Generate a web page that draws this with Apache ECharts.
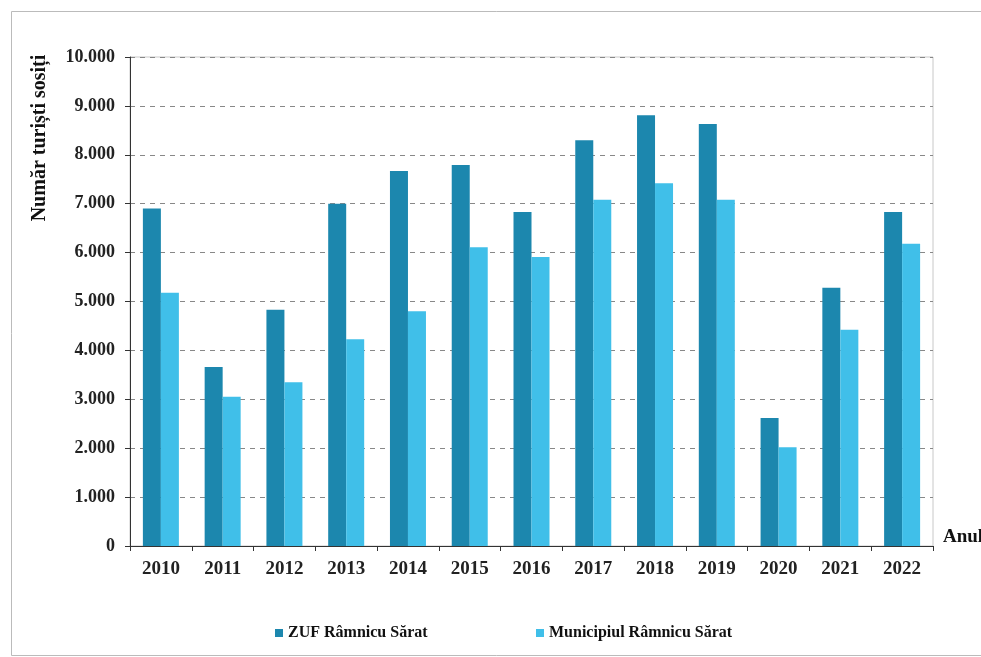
<!DOCTYPE html>
<html>
<head>
<meta charset="utf-8">
<script src="https://cdn.jsdelivr.net/npm/echarts@6/dist/echarts.min.js"></script>
<style>
  html, body { margin: 0; padding: 0; background: #fff; }
  #main { width: 981px; height: 657px; }
</style>
</head>
<body>
<div id="main"></div>
<script>
// ani pe axa x
var ani = ["2010", "2011", "2012", "2013", "2014", "2015", "2016", "2017", "2018", "2019", "2020", "2021", "2022"];
// turisti sositi - ZUF
var zuf = [6900, 3660, 4830, 7000, 7670, 7790, 6830, 8300, 8810, 8630, 2620, 5280, 6830];
// turisti sositi - municipiu
var municipiu = [5180, 3050, 3350, 4230, 4800, 6110, 5910, 7080, 7420, 7080, 2020, 4420, 6180];

var serif = "'Liberation Serif', 'DejaVu Serif', serif";

var myChart = echarts.init(document.getElementById("main"));
var option = {
  animation: false,
  backgroundColor: "#fff",
  textStyle: { fontFamily: serif },
  grid: {
    left: 130, right: 48, top: 57, bottom: 111,
    show: true, borderColor: "#c8c8c8", borderWidth: 1
  },
  legend: [
    {
      data: ["ZUF Râmnicu Sărat"],
      left: 270, top: 620,
      itemWidth: 8, itemHeight: 8, icon: "rect",
      textStyle: { fontFamily: serif, fontWeight: "bold", fontSize: 16, color: "#111" }
    },
    {
      data: ["Municipiul Râmnicu Sărat"],
      left: 531, top: 620,
      itemWidth: 8, itemHeight: 8, icon: "rect",
      textStyle: { fontFamily: serif, fontWeight: "bold", fontSize: 16, color: "#111" }
    }
  ],
  xAxis: {
    type: "category",
    data: ani,
    axisLine: { lineStyle: { color: "#333", width: 1 } },
    axisTick: { show: true, alignWithLabel: false, length: 5, lineStyle: { color: "#333" } },
    axisLabel: { fontFamily: serif, fontWeight: "bold", fontSize: 19, color: "#222", margin: 14 }
  },
  yAxis: {
    type: "value",
    min: 0, max: 10000, interval: 1000,
    axisLine: { show: true, lineStyle: { color: "#333", width: 1 } },
    axisTick: { show: true, length: 5, lineStyle: { color: "#333" } },
    axisLabel: {
      fontFamily: serif, fontWeight: "bold", fontSize: 18, color: "#222", margin: 15,
      formatter: function (v) {
        return v === 0 ? "0" : (v / 1000).toFixed(0) + ".000";
      }
    },
    splitLine: { lineStyle: { type: [5, 5], color: "#888", width: 1 } }
  },
  series: [
    {
      name: "ZUF Râmnicu Sărat",
      type: "bar",
      data: zuf,
      barWidth: 18,
      barGap: "0%",
      itemStyle: { color: "#1c87ae" }
    },
    {
      name: "Municipiul Râmnicu Sărat",
      type: "bar",
      data: municipiu,
      barWidth: 18,
      barGap: "0%",
      itemStyle: { color: "#40bfe9" }
    }
  ],
  graphic: [
    {
      type: "rect", left: 9, top: 9, z: -1,
      shape: { width: 972, height: 644 },
      style: { fill: "none", stroke: "#bbb", lineWidth: 1 }
    },
    {
      type: "text",
      x: 40, y: 138, rotation: Math.PI / 2,
      style: {
        text: "Număr turiști sosiți",
        fontFamily: serif, fontWeight: "bold", fontSize: 20, fill: "#111",
        align: "center", verticalAlign: "middle"
      }
    },
    {
      type: "text",
      left: 943, top: 528,
      style: {
        text: "Anul",
        fontFamily: serif, fontWeight: "bold", fontSize: 19, fill: "#111"
      }
    }
  ]
};
myChart.setOption(option);
</script>
</body>
</html>
